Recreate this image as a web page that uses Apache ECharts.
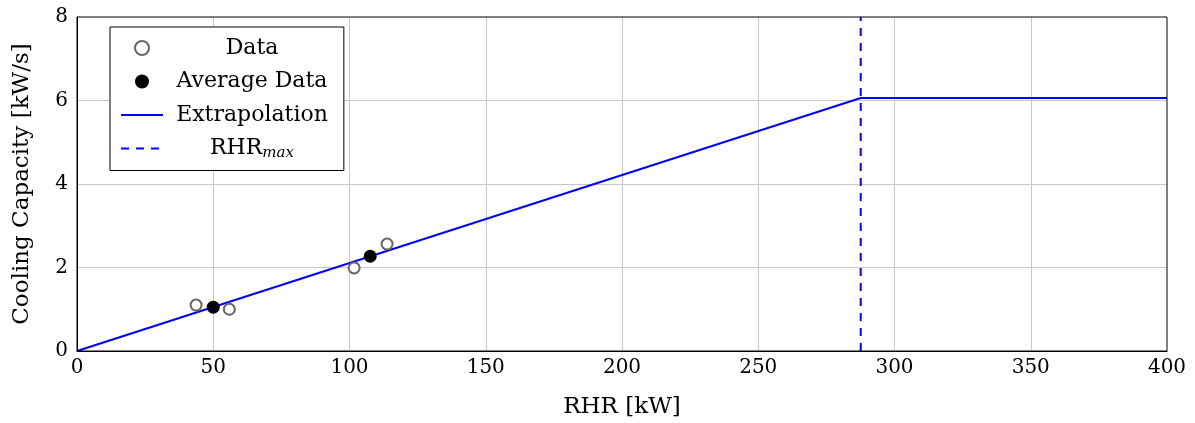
<!DOCTYPE html>
<html>
<head>
<meta charset="utf-8">
<script src="https://cdn.jsdelivr.net/npm/echarts@6/dist/echarts.min.js"></script>
<style>
    html, body { margin: 0; padding: 0; background: #fff; }
    #chart { width: 1195px; height: 423px; }
</style>
</head>
<body>
<div id="chart"></div>
<script>
// measured data (RHR [kW], cooling capacity [kW/s])
const dataPoints = [[43.7, 1.1], [55.9, 1.0], [101.7, 1.99], [113.8, 2.56]]
const averagePoints = [[50.0, 1.05], [107.6, 2.27]]
const extrapolation = [[0, 0], [287.6, 6.06], [400, 6.06]]
const rhrMax = [[287.6, 0], [287.6, 8]]

const font = "DejaVu Serif"

var myChart = echarts.init(document.getElementById("chart"))
myChart.setOption({
    animation: false,
    grid: {
        left: 77,
        right: 28,
        top: 17,
        bottom: 72,
        outerBoundsMode: "none",
        show: true,
        borderColor: "#000",
        borderWidth: 1,
        z: 5,
    },
    legend: {
        orient: "vertical",
        left: 110,
        top: 27,
        padding: [10, 16, 10, 10],
        itemWidth: 42,
        itemHeight: 14,
        itemGap: 11.5,
        borderColor: "#000",
        borderWidth: 1,
        backgroundColor: "#fff",
        data: [
            "Data",
            "Average Data",
            { name: "Extrapolation", itemStyle: { opacity: 0 } },
            { name: "RHRmax", itemStyle: { opacity: 0 } },
        ],
        formatter: function (name) {
            if (name === "RHRmax") return "{c|RHR}{s|max}"
            return "{c|" + name + "}"
        },
        textStyle: {
            width: 168,
            fontFamily: font,
            fontSize: 22,
            color: "#000",
            rich: {
                c: { align: "center", fontFamily: font, fontSize: 22, lineHeight: 24, color: "#000" },
                s: { align: "center", fontFamily: font, fontSize: 15, fontStyle: "italic", verticalAlign: "bottom", lineHeight: 13, color: "#000" },
            },
        },
    },
    xAxis: {
        type: "value",
        min: 0,
        max: 400,
        interval: 50,
        name: "RHR [kW]",
        nameLocation: "middle",
        nameGap: 45,
        nameTextStyle: { fontFamily: font, fontSize: 23, color: "#000" },
        axisLine: { lineStyle: { color: "#000" } },
        axisTick: { show: false },
        axisLabel: { margin: 7, fontFamily: font, fontSize: 20, color: "#000" },
        splitLine: { showMinLine: false, showMaxLine: false, lineStyle: { color: "#c8c8c8" } },
    },
    yAxis: {
        type: "value",
        min: 0,
        max: 8,
        interval: 2,
        name: "Cooling Capacity [kW/s]",
        nameLocation: "middle",
        nameGap: 43,
        nameTextStyle: { fontFamily: font, fontSize: 23, color: "#000" },
        axisLine: { show: true, lineStyle: { color: "#000" } },
        axisTick: { show: false },
        axisLabel: { margin: 9, fontFamily: font, fontSize: 20, color: "#000" },
        splitLine: { showMinLine: false, showMaxLine: false, lineStyle: { color: "#c8c8c8" } },
    },
    series: [
        {
            name: "Extrapolation",
            type: "line",
            symbol: "none",
            data: extrapolation,
            lineStyle: { color: "#0000ff", width: 2 },
            itemStyle: { color: "#0000ff" },
            z: 2,
        },
        {
            name: "RHRmax",
            type: "line",
            symbol: "none",
            data: rhrMax,
            lineStyle: { color: "#0000ff", width: 2, type: [8, 7] },
            itemStyle: { color: "#0000ff" },
            z: 2,
        },
        {
            name: "Data",
            type: "scatter",
            symbol: "circle",
            symbolSize: 11,
            data: dataPoints,
            itemStyle: { color: "#fff", borderColor: "#666", borderWidth: 2, opacity: 1 },
            z: 3,
        },
        {
            name: "Average Data",
            type: "scatter",
            symbol: "circle",
            symbolSize: 13,
            data: averagePoints,
            itemStyle: { color: "#000", opacity: 1 },
            z: 4,
        },
    ],
})
</script>
</body>
</html>
